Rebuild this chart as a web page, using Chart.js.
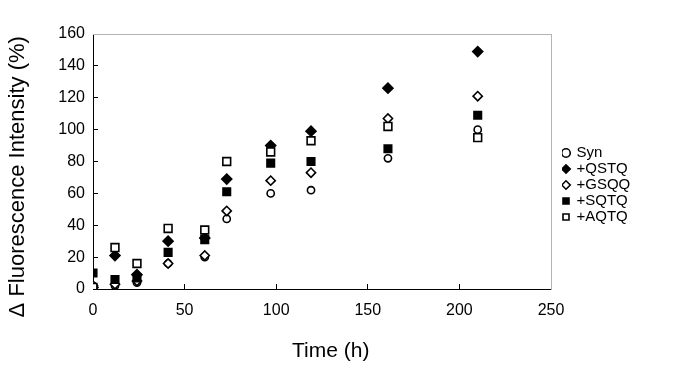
<!DOCTYPE html>
<html>
<head>
<meta charset="utf-8">
<script src="https://cdn.jsdelivr.net/npm/chart.js@4/dist/chart.umd.min.js"></script>
<style>
html,body{margin:0;padding:0;background:#fff;}
canvas{display:block;}
</style>
</head>
<body>
<canvas id="c" width="685" height="370"></canvas>
<script>
// Time points (h)
const times = [0, 12, 24, 41, 61, 73, 97, 119, 161, 210];
// Series values (% change in fluorescence intensity)
const synValues  = [2, 2, 4, 16, 20, 44, 60, 62, 82, 100];
const qstqValues = [1, 21, 9, 30, 32, 69, 90, 99, 126, 149];
const gsqqValues = [2, 3, 5, 16, 21, 49, 68, 73, 107, 121];
const sqtqValues = [10, 6, 7, 23, 31, 61, 79, 80, 88, 109];
const aqtqValues = [1, 26, 16, 38, 37, 80, 86, 93, 102, 95];
// Series names
const seriesNames = ['Syn', '+QSTQ', '+GSQQ', '+SQTQ', '+AQTQ'];
// Tick labels
const xTickValues = [0, 50, 100, 150, 200, 250];
const yTickValues = [0, 20, 40, 60, 80, 100, 120, 140, 160];

const FONT = '"Liberation Sans", Arial, sans-serif';
const pts = vals => vals.map((v, i) => ({x: times[i], y: v}));

const styles = [
  {pointStyle: 'circle',  bg: '#ffffff', r: 3.6, order: 5},
  {pointStyle: 'rectRot', bg: '#000000', r: 5,   order: 4},
  {pointStyle: 'rectRot', bg: '#ffffff', r: 4.6, order: 3},
  {pointStyle: 'rect',    bg: '#000000', r: 5.3, order: 2},
  {pointStyle: 'rect',    bg: '#ffffff', r: 5.5, order: 1}
];
const allValues = [synValues, qstqValues, gsqqValues, sqtqValues, aqtqValues];

const datasets = allValues.map((vals, i) => ({
  label: seriesNames[i],
  data: pts(vals),
  showLine: false,
  pointStyle: styles[i].pointStyle,
  backgroundColor: styles[i].bg,
  borderColor: '#000000',
  borderWidth: 1.6,
  pointRadius: styles[i].r,
  pointHoverRadius: styles[i].r,
  order: styles[i].order
}));

const legendWidthPlugin = {
  id: 'legendWidth',
  afterInit(chart) {
    const lg = chart.legend;
    if (lg) {
      const f = lg.fit;
      lg.fit = function() { f.call(this); this.width = 123; };
    }
  }
};

new Chart(document.getElementById('c'), {
  type: 'scatter',
  data: { datasets },
  plugins: [legendWidthPlugin],
  options: {
    responsive: false,
    animation: false,
    events: [],
    layout: { padding: 0 },
    plugins: {
      tooltip: { enabled: false },
      legend: {
        position: 'right',
        align: 'center',
        labels: {
          usePointStyle: true,
          boxHeight: 6,
          boxWidth: 6,
          padding: 1,
          color: '#000',
          font: { family: FONT, size: 15 },
          sort: (a, b) => a.datasetIndex - b.datasetIndex
        }
      }
    },
    scales: {
      x: {
        type: 'linear',
        position: 'bottom',
        min: xTickValues[0],
        max: xTickValues[xTickValues.length - 1],
        afterBuildTicks: s => { s.ticks = xTickValues.map(v => ({value: v})); },
        afterFit: s => { s.height = 81; },
        grid: { drawOnChartArea: false, drawTicks: true, tickLength: -5, color: '#000', lineWidth: 1 },
        border: { color: '#000', width: 1 },
        ticks: { color: '#000', font: { family: FONT, size: 16 }, padding: 17, maxRotation: 0 },
        title: { display: true, text: '   Time (h)', color: '#000', font: { family: FONT, size: 21 }, padding: { top: 0, bottom: 6 } }
      },
      y: {
        type: 'linear',
        position: 'left',
        min: yTickValues[0],
        max: yTickValues[yTickValues.length - 1],
        afterBuildTicks: s => { s.ticks = yTickValues.map(v => ({value: v})); },
        afterFit: s => { s.width = 93; },
        grid: { drawOnChartArea: false, drawTicks: true, tickLength: -5, color: '#000', lineWidth: 1 },
        border: { color: '#000', width: 1 },
        ticks: { color: '#000', font: { family: FONT, size: 16 }, padding: 13 },
        title: { display: true, text: '\u0394 Fluorescence Intensity (%)     ', color: '#000', font: { family: FONT, size: 22 }, padding: { top: 5, bottom: 0 } }
      },
      x2: {
        type: 'linear',
        position: 'top',
        min: 0, max: 1,
        afterFit: s => { s.height = 34; },
        grid: { drawOnChartArea: false, drawTicks: false },
        border: { color: '#b4b4b4', width: 1 },
        ticks: { display: false }
      },
      y2: {
        type: 'linear',
        position: 'right',
        min: 0, max: 1,
        afterFit: s => { s.width = 11; },
        grid: { drawOnChartArea: false, drawTicks: false },
        border: { color: '#b4b4b4', width: 1 },
        ticks: { display: false }
      }
    }
  }
});
</script>
</body>
</html>
